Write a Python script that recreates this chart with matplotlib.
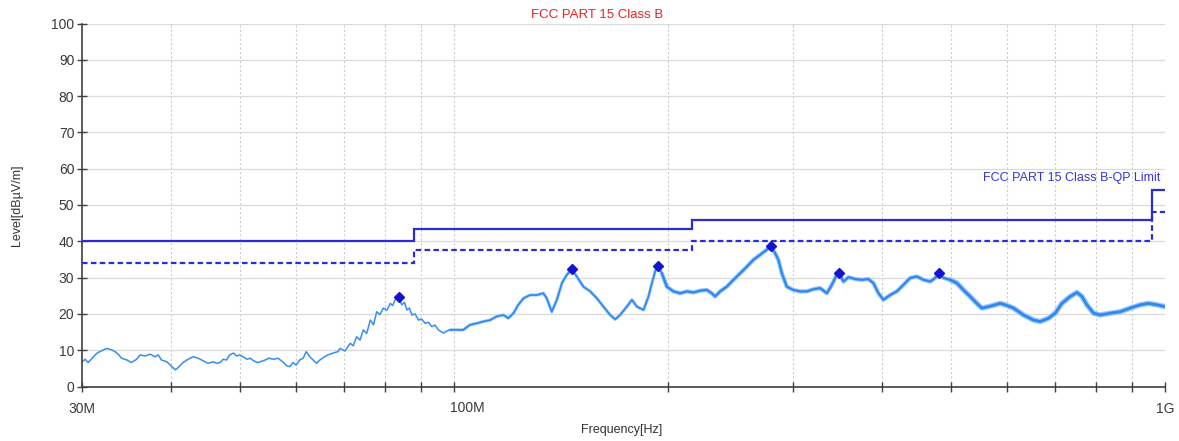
import matplotlib
matplotlib.use("Agg")
import matplotlib.pyplot as plt
import numpy as np
from matplotlib.ticker import FixedLocator, FixedFormatter, NullLocator

plt.rcParams['font.family'] = ['Liberation Sans', 'DejaVu Sans']

# Measured emission trace (frequency in MHz, level in dBuV/m)
trace_freq = [
    30.0, 30.3, 30.6, 31.0, 31.5, 32.0, 32.5, 33.0, 33.4, 33.8, 34.1, 34.7, 35.2, 35.8,
    36.2, 36.8, 37.4, 38.0, 38.4, 38.8, 39.5, 40.1, 40.6, 41.0, 41.6, 42.3, 43.0, 43.7,
    44.4, 45.1, 45.9, 46.4, 46.9, 47.4, 47.9, 48.4, 49.0, 49.5, 50.0, 50.6, 51.2, 51.7,
    52.3, 52.9, 53.4, 54.3, 54.9, 55.8, 56.6, 57.6, 58.2, 58.8, 59.4, 60.0, 60.7, 61.4,
    62.0, 62.7, 63.4, 64.1, 64.8, 65.8, 66.5, 67.6, 68.7, 69.2, 70.3, 71.5, 72.2, 73.0,
    73.8, 74.6, 75.4, 76.3, 77.1, 77.9, 78.7, 79.6, 80.5, 81.4, 82.0, 82.7, 83.6, 84.5,
    85.2, 85.9, 86.6, 87.3, 88.2, 89.2, 90.1, 91.1, 92.1, 93.1, 94.1, 95.1, 96.7, 97.7,
    98.8, 101.0, 103.1, 104.2, 105.4, 107.7, 110.0, 112.5, 114.9, 117.4, 119.3, 121.3,
    123.2, 125.3, 128.0, 130.8, 133.6, 135.1, 137.3, 139.6, 141.9, 144.2, 146.5, 148.9,
    152.1, 155.5, 158.9, 162.3, 165.9, 168.6, 171.3, 175.1, 178.0, 180.9, 184.8, 187.8,
    189.9, 191.9, 193.4, 196.1, 199.3, 203.6, 208.1, 212.7, 217.3, 222.0, 226.8, 230.5,
    233.0, 236.8, 242.0, 247.3, 252.7, 258.2, 263.8, 269.6, 275.5, 279.1, 283.0, 286.0,
    289.2, 293.9, 300.3, 306.9, 313.6, 320.4, 327.4, 334.6, 340.0, 345.6, 348.2, 353.0,
    358.8, 366.7, 374.7, 382.8, 389.0, 395.4, 401.9, 410.7, 419.7, 428.8, 438.2, 447.8,
    457.4, 467.5, 475.1, 481.8, 488.1, 498.8, 509.7, 520.7, 532.1, 543.8, 552.7, 564.6,
    577.0, 586.4, 596.0, 612.3, 632.4, 653.3, 667.6, 685.8, 700.8, 716.2, 735.7, 751.9,
    764.1, 776.6, 793.4, 810.8, 837.5, 865.1, 893.6, 923.0, 948.1, 974.3, 1000.0,
]
trace_level = [
    6.8, 7.5, 6.6, 7.8, 9.2, 9.9, 10.5, 10.1, 9.6, 8.7, 7.8, 7.3, 6.6, 7.5,
    8.7, 8.4, 8.9, 8.2, 8.7, 7.3, 6.8, 5.5, 4.6, 5.3, 6.6, 7.5, 8.2, 7.8,
    7.1, 6.4, 6.8, 6.4, 6.6, 7.5, 7.3, 8.7, 9.2, 8.4, 8.7, 8.1, 7.5, 7.8,
    7.1, 6.6, 6.8, 7.3, 7.8, 7.5, 7.8, 6.6, 5.7, 5.5, 6.6, 5.9, 7.3, 7.8,
    9.6, 8.2, 7.3, 6.4, 7.3, 8.2, 8.7, 9.2, 9.6, 10.5, 9.8, 11.9, 11.2, 13.7,
    12.8, 15.6, 14.6, 18.3, 17.0, 20.6, 19.8, 21.6, 21.0, 22.9, 22.3, 23.9, 24.6, 22.5,
    23.2, 21.1, 21.6, 19.7, 20.0, 18.3, 18.6, 17.4, 17.7, 16.5, 16.9, 15.6, 14.7, 15.3,
    15.6, 15.6, 15.6, 16.3, 17.0, 17.4, 17.9, 18.3, 19.3, 19.7, 18.8, 20.2,
    22.5, 24.3, 25.2, 25.2, 25.7, 24.3, 20.6, 23.9, 28.5, 30.8, 32.3, 30.3,
    27.5, 26.2, 24.3, 22.0, 19.7, 18.5, 19.7, 22.0, 23.9, 22.0, 21.1, 24.8,
    28.5, 31.7, 33.3, 31.2, 27.5, 26.2, 25.7, 26.2, 25.9, 26.4, 26.6, 25.7,
    24.8, 26.2, 27.5, 29.4, 31.2, 33.0, 34.9, 36.3, 37.7, 38.6, 36.7, 34.9,
    31.2, 27.5, 26.6, 26.2, 26.2, 26.8, 27.1, 25.7, 28.0, 30.8, 31.4, 28.9,
    30.1, 29.6, 29.4, 29.6, 28.5, 25.7, 23.9, 25.2, 26.2, 28.0, 29.9, 30.3,
    29.4, 28.9, 29.9, 31.4, 29.9, 29.4, 28.5, 26.6, 24.8, 22.9, 21.6, 22.0,
    22.5, 22.9, 22.5, 21.6, 19.7, 18.3, 17.9, 18.8, 20.2, 22.9, 24.8, 25.9,
    24.8, 22.5, 20.2, 19.7, 20.2, 20.6, 21.6, 22.5, 22.9, 22.5, 22.0,
]

# Peak markers
peak_freq = [83.6, 146.5, 193.4, 279.1, 348.2, 481.8]
peak_level = [24.6, 32.3, 33.3, 38.6, 31.4, 31.4]

# FCC Part 15 Class B limits (step edges in MHz)
limit_freq = [30.0, 88.0, 216.0, 960.0, 1000.0]
qp_limit = [40.0, 43.5, 46.0, 54.0]
av_limit = [34.0, 37.5, 40.0, 48.0]

x_ticks = [30, 40, 50, 60, 70, 80, 90, 100, 200, 300, 400, 500, 600, 700, 800, 900, 1000]
x_tick_labels = ['30M', '', '', '', '', '', '', '', '', '', '', '', '', '', '', '', '1G']
y_ticks = list(range(0, 101, 10))

fig = plt.figure(figsize=(11.79, 4.41), dpi=100)
ax = fig.add_axes([82 / 1179, 1 - 386.5 / 441, (1165 - 82) / 1179, (386.5 - 23.5) / 441])

ax.set_xscale('log')
ax.set_xlim(30, 1000)
ax.set_ylim(0, 100)

# grid
for f in x_ticks[1:-1]:
    ax.axvline(f, color='#cccccc', lw=0.8, ls=(0, (2, 2)), zorder=0)
for y in y_ticks[1:]:
    ax.axhline(y, color='#dadada', lw=0.9, zorder=0)

# trace, drawn thicker (with a soft halo) where the sweep is denser
tf = np.array(trace_freq)
tl = np.array(trace_level)
bands = [(30, 100, 0.8, 1.3), (98.8, 200, 1.2, 2.3), (196.1, 500, 1.6, 3.1), (498.8, 1000, 2.0, 3.9)]
for lo, hi, lw, halo in bands:
    m = (tf >= lo) & (tf <= hi)
    ax.plot(tf[m], tl[m], color='#9cc8f7', lw=halo, solid_joinstyle='round',
            solid_capstyle='round', zorder=2)
    ax.plot(tf[m], tl[m], color='#2f87f0', lw=lw, solid_joinstyle='round',
            solid_capstyle='round', zorder=2.1)

# limit lines
limit_color = '#2b2bd8'
ax.stairs(qp_limit, limit_freq, color=limit_color, lw=1.6, baseline=None, zorder=3)
ax.stairs(av_limit, limit_freq, color=limit_color, lw=1.6, ls=(0, (2.5, 1.5)), baseline=None, zorder=3)

ax.plot(peak_freq, peak_level, ls='none', marker='D', ms=5, color='#1414d0', zorder=4)

ax.text(985, 57.5, 'FCC PART 15 Class B-QP Limit', color='#3535d8', fontsize=9,
        ha='right', va='center')

# axes styling
for s in ['top', 'right']:
    ax.spines[s].set_visible(False)
for s in ['left', 'bottom']:
    ax.spines[s].set_color('#404040')
    ax.spines[s].set_linewidth(1.2)

ax.xaxis.set_major_locator(FixedLocator(x_ticks))
ax.xaxis.set_major_formatter(FixedFormatter(x_tick_labels))
ax.xaxis.set_minor_locator(NullLocator())
ax.set_yticks(y_ticks)
ax.tick_params(axis='both', direction='inout', length=7, width=1.0, color='#404040',
               labelsize=10, labelcolor='#3a3a3a')
ax.tick_params(axis='x', pad=8)
ax.tick_params(axis='y', pad=2)

# the 100M label sits a little right of its tick
ax.annotate('100M', xy=(100, 0), xycoords=('data', 'axes fraction'), xytext=(13, -14.5),
            textcoords='offset pixels', ha='center', va='top', fontsize=10, color='#3a3a3a')

fig.text(597 / 1179, 1 - 15 / 441, 'FCC PART 15 Class B', color='#ee2222', fontsize=9.5,
         ha='center', va='center')
fig.text(622 / 1179, 1 - 430 / 441, 'Frequency[Hz]', color='#333333', fontsize=9,
         ha='center', va='center')
fig.text(17 / 1179, 1 - 205 / 441, 'Level[dB\u00b5V/m]', color='#333333', fontsize=9,
         ha='center', va='center', rotation=90)

fig.savefig('out.png', dpi=100)
